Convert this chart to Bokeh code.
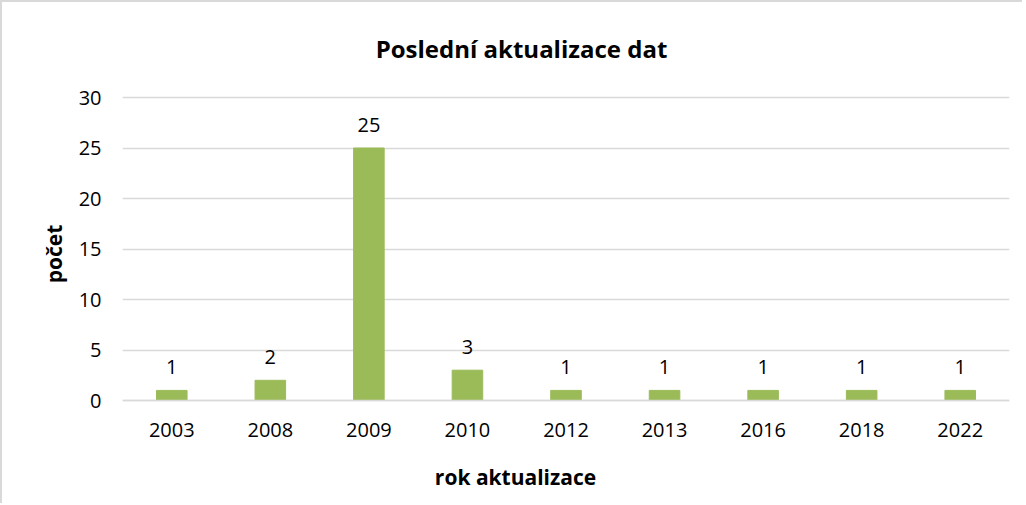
from bokeh.plotting import figure
from bokeh.models import ColumnDataSource, LabelSet, Label, Range1d, FactorRange
from bokeh.core.properties import value
from bokeh.embed import file_html
from bokeh.resources import INLINE

years = ["2003", "2008", "2009", "2010", "2012", "2013", "2016", "2018", "2022"]
counts = [1, 2, 25, 3, 1, 1, 1, 1, 1]
y_ticks = [0, 5, 10, 15, 20, 25, 30]
title_text = "Poslední aktualizace dat"
x_title = "rok aktualizace"
y_title = "počet"

FONT = "Open Sans"
GREEN = "#9BBB59"
GRID = "#D9D9D9"

W, H = 1022, 503
TOP, BOT = 2, 505          # frame spans the full canvas height (page px)
Y0, Y30 = 400, 97          # page px of value 0 and value 30
PX = (Y0 - Y30) / 30.0
FL = 122                   # frame left (page px)

src = ColumnDataSource(dict(x=years, top=counts, lbl=[str(c) for c in counts]))

p = figure(
    x_range=FactorRange(*years, range_padding=0),
    y_range=Range1d(-(BOT - Y0) / PX, 30 + (Y30 - TOP) / PX),
    width=W, height=H, output_backend="svg", toolbar_location=None,
    min_border_left=120, min_border_right=15, min_border_top=0, min_border_bottom=0,
)
p.styles = {"border-top": "2px solid #D9D9D9", "border-left": "2px solid #D9D9D9"}
p.outline_line_color = None
p.background_fill_color = "white"
p.border_fill_color = "white"

p.vbar(x="x", top="top", width=0.31, source=src, fill_color=GREEN, line_color=GREEN)

labels = LabelSet(x="x", y="top", text="lbl", source=src, text_align="center",
                  text_baseline="middle", y_offset=23, text_font=value(FONT),
                  text_font_size=value("20px"), text_color="#000000")
p.add_layout(labels)

p.xgrid.grid_line_color = None
p.ygrid.grid_line_color = GRID
p.ygrid.grid_line_width = 1.5
p.yaxis.ticker = y_ticks

for ax in (p.xaxis, p.yaxis):
    ax.axis_line_color = None
    ax.major_tick_line_color = None
    ax.minor_tick_line_color = None
    ax.major_label_text_font = FONT
    ax.major_label_text_font_size = "20px"
    ax.major_label_text_color = "#000000"

p.xaxis.fixed_location = 0
p.xaxis.axis_line_color = GRID
p.xaxis.axis_line_width = 1.5
p.xaxis.major_label_standoff = 16
p.yaxis.major_label_standoff = 15

p.yaxis.axis_label = y_title
p.yaxis.axis_label_text_font = FONT
p.yaxis.axis_label_text_font_style = "bold"
p.yaxis.axis_label_text_font_size = "21px"
p.yaxis.axis_label_text_color = "#000000"
p.yaxis.axis_label_standoff = 8

# screen units are relative to the plot frame (x from left, y up from bottom)
p.add_layout(Label(x=521 - FL, y=BOT - 48, x_units="screen", y_units="screen",
                   text=title_text, text_align="center", text_baseline="middle",
                   text_font=FONT, text_font_style="bold",
                   text_font_size="24px", text_color="#000000"))
p.add_layout(Label(x=515 - FL, y=BOT - 476, x_units="screen", y_units="screen",
                   text=x_title, text_align="center", text_baseline="middle",
                   text_font=FONT, text_font_style="bold",
                   text_font_size="21px", text_color="#000000"))

open("out.html", "w").write(file_html(p, INLINE))
